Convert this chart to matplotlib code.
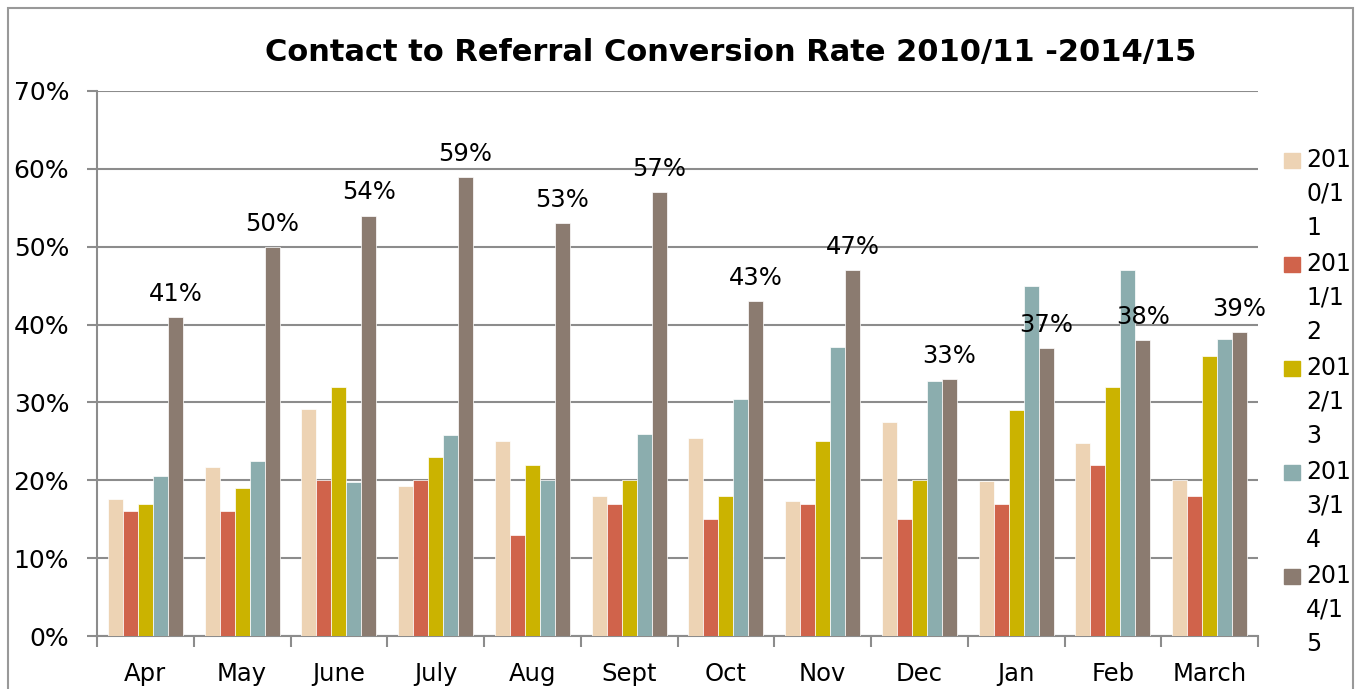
import matplotlib
matplotlib.use('Agg')
import matplotlib.pyplot as plt
import numpy as np
from matplotlib.patches import Rectangle

months = ['Apr', 'May', 'June', 'July', 'Aug', 'Sept', 'Oct', 'Nov',
          'Dec', 'Jan', 'Feb', 'March']
series_names = ['2010/11', '2011/12', '2012/13', '2013/14', '2014/15']

rate_2010 = [17.6, 21.7, 29.1, 19.3, 25.0, 18.0, 25.4, 17.3, 27.5, 19.9, 24.8, 20.0]
rate_2011 = [16.0, 16.0, 20.0, 20.0, 13.0, 17.0, 15.0, 17.0, 15.0, 17.0, 22.0, 18.0]
rate_2012 = [17.0, 19.0, 32.0, 23.0, 22.0, 20.0, 18.0, 25.0, 20.0, 29.0, 32.0, 36.0]
rate_2013 = [20.5, 22.5, 19.8, 25.8, 20.0, 26.0, 30.5, 37.1, 32.7, 44.9, 47.0, 38.1]
rate_2014 = [41, 50, 54, 59, 53, 57, 43, 47, 33, 37, 38, 39]

colors = ['#EDD3B4', '#D0634B', '#CBB300', '#8BADAE', '#8B7B70']
series = [rate_2010, rate_2011, rate_2012, rate_2013, rate_2014]

fig = plt.figure(figsize=(13.67, 6.89), dpi=100)
ax = fig.add_axes([97 / 1367, 53 / 689, 1161 / 1367, 545 / 689])

x = np.arange(len(months))
width = 0.155
for i, (vals, color) in enumerate(zip(series, colors)):
    offs = (i - 2) * width
    ax.bar(x + offs, vals, width, color=color, edgecolor='white',
           linewidth=0.5, zorder=3)

# labels on the latest year
for xi, v in zip(x + 2 * width, rate_2014):
    ax.annotate(f'{v}%', (xi, v), xytext=(0, 8), textcoords='offset points',
                ha='center', va='bottom', fontsize=17.5, zorder=5)

ax.set_xlim(-0.5, len(months) - 0.5)
ax.set_ylim(0, 70)
ax.set_yticks(range(0, 71, 10))
ax.set_yticklabels([f'{v}%' for v in range(0, 71, 10)], fontsize=18)
ax.set_xticks(x)
ax.set_xticklabels(months, fontsize=17.5)
ax.set_xticks(np.arange(-0.5, len(months), 1), minor=True)
ax.tick_params(axis='x', which='major', length=0, pad=19)
ax.tick_params(axis='x', which='minor', length=8, width=1.5, color='#8c8c8c')
ax.tick_params(axis='y', length=7, width=1.5, color='#8c8c8c', pad=13)
ax.grid(axis='y', color='#8c8c8c', linewidth=1.5, zorder=0)
ax.set_axisbelow(True)
for side in ['top', 'right']:
    ax.spines[side].set_visible(False)
for side in ['left', 'bottom']:
    ax.spines[side].set_color('#8c8c8c')
    ax.spines[side].set_linewidth(1.5)

fig.text(731 / 1367, 1 - 52 / 689, 'Contact to Referral Conversion Rate 2010/11 -2014/15',
         ha='center', va='center', fontsize=22, fontweight='bold')

# legend drawn by hand so the labels wrap like the original
for i, (name, color) in enumerate(zip(series_names, colors)):
    top = 153 + i * 104
    fig.add_artist(Rectangle((1284 / 1367, 1 - (top + 15) / 689), 16 / 1367, 15 / 689,
                             transform=fig.transFigure, color=color))
    wrapped = name[:3] + '\n' + name[3:6] + '\n' + name[6:]
    fig.text(1306 / 1367, 1 - (top - 5) / 689, wrapped, ha='left', va='top',
             fontsize=17, linespacing=1.52)

# chart area border
fig.add_artist(Rectangle((8 / 1367, -0.02), 1345 / 1367, 1.02 - 8 / 689,
                         transform=fig.transFigure, fill=False,
                         edgecolor='#999999', linewidth=1.5))

fig.savefig('out.png', dpi=100)
